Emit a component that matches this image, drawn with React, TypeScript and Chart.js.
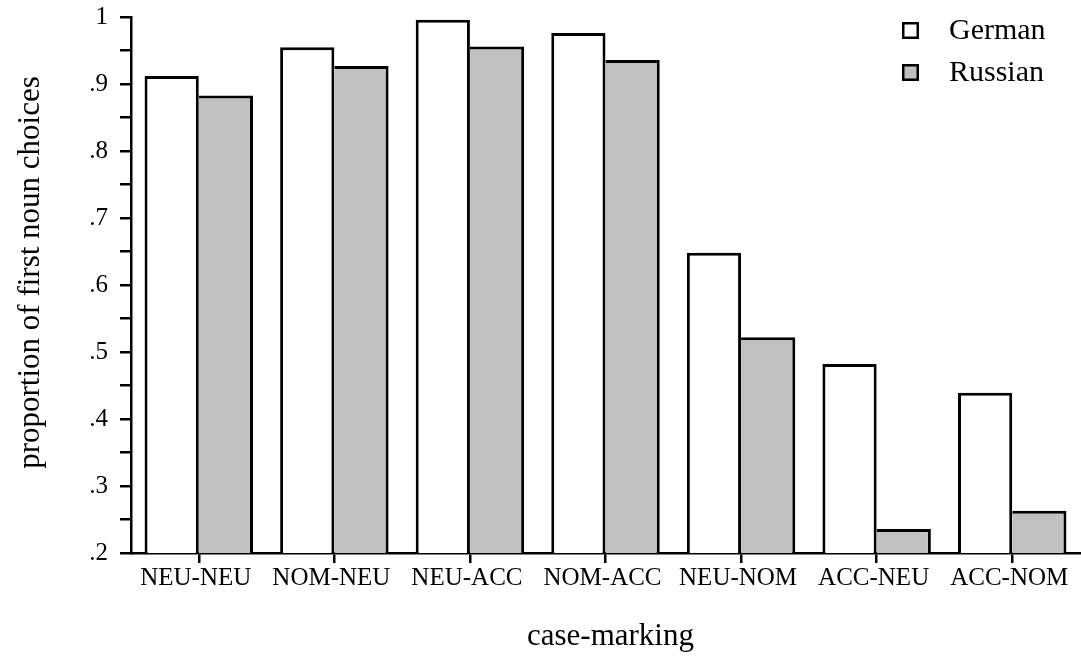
import React, { useEffect, useRef } from 'react';
import { Chart, registerables } from 'chart.js';

Chart.register(...registerables);

const categories = ['NEU-NEU', 'NOM-NEU', 'NEU-ACC', 'NOM-ACC', 'NEU-NOM', 'ACC-NEU', 'ACC-NOM'];
const germanValues = [0.912, 0.955, 0.996, 0.976, 0.648, 0.482, 0.439];
const russianValues = [0.883, 0.927, 0.956, 0.936, 0.522, 0.236, 0.263];
const seriesLabels = ['German', 'Russian'];
const yMin = 0.2;
const yMax = 1;
const yTickStep = 0.05;
const xTitle = 'case-marking';
const yTitle = 'proportion of first noun choices';

const FONT = '"Liberation Serif", "Times New Roman", serif';

const legendPlugin = {
  id: 'customLegend',
  afterDraw(chart: any) {
    const { ctx, chartArea } = chart;
    ctx.save();
    const boxX = chartArea.right - 178;
    const textX = chartArea.right - 131;
    const rows = [30, 72];
    chart.data.datasets.forEach((ds: any, i: number) => {
      const cy = rows[i];
      ctx.fillStyle = ds.backgroundColor;
      ctx.fillRect(boxX, cy - 8, 17, 17);
      ctx.lineWidth = 2.5;
      ctx.strokeStyle = '#000';
      ctx.strokeRect(boxX + 1.25, cy - 6.75, 14.5, 14.5);
      ctx.fillStyle = '#000';
      ctx.font = `30px ${FONT}`;
      ctx.textBaseline = 'middle';
      ctx.textAlign = 'left';
      ctx.fillText(ds.label, textX, cy + 1);
    });
    // y-axis title
    ctx.save();
    ctx.translate(31, 272.5);
    ctx.rotate(-Math.PI / 2);
    ctx.font = `31px ${FONT}`;
    ctx.textAlign = 'center';
    ctx.textBaseline = 'middle';
    ctx.fillStyle = '#000';
    ctx.fillText(yTitle, 0, 0);
    ctx.restore();
    // x-axis title
    ctx.font = `31px ${FONT}`;
    ctx.textAlign = 'center';
    ctx.textBaseline = 'middle';
    ctx.fillStyle = '#000';
    ctx.fillText(xTitle, (chartArea.left + chartArea.right) / 2 + 5, 637);
    ctx.restore();
  },
};

export default function App() {
  const ref = useRef<HTMLCanvasElement | null>(null);

  useEffect(() => {
    if (!ref.current) return;
    const chart = new Chart(ref.current, {
      type: 'bar',
      data: {
        labels: categories,
        datasets: [
          {
            label: seriesLabels[0],
            data: germanValues,
            backgroundColor: '#ffffff',
            borderColor: '#000000',
            borderWidth: { top: 3, left: 3, right: 3, bottom: 0 },
            borderSkipped: false,
            categoryPercentage: 0.8,
            barPercentage: 1.0,
          },
          {
            label: seriesLabels[1],
            data: russianValues,
            backgroundColor: '#c0c0c0',
            borderColor: '#000000',
            borderWidth: { top: 3, left: 0, right: 3, bottom: 0 },
            borderSkipped: false,
            categoryPercentage: 0.8,
            barPercentage: 1.0,
          },
        ],
      },
      options: {
        responsive: false,
        animation: false,
        layout: { padding: { left: 0, top: 17, right: 1, bottom: 0 } },
        plugins: {
          legend: { display: false },
          tooltip: { enabled: false },
        },
        scales: {
          x: {
            grid: {
              offset: false,
              drawOnChartArea: false,
              drawTicks: true,
              tickLength: 10,
              color: '#000',
              lineWidth: 2.5,
            },
            border: { display: true, color: '#000', width: 2.5 },
            ticks: {
              color: '#000',
              font: { family: FONT, size: 25 },
              padding: 0,
              labelOffset: -3,
              maxRotation: 0,
              autoSkip: false,
            },
            title: { display: false },
            afterFit(scale: any) {
              scale.height = 104;
              scale.paddingLeft = 0;
              scale.paddingRight = 0;
            },
          },
          y: {
            min: yMin,
            max: yMax,
            grid: {
              drawOnChartArea: false,
              drawTicks: true,
              tickLength: 11,
              color: '#000',
              lineWidth: 2.5,
            },
            border: { display: true, color: '#000', width: 2.5 },
            ticks: {
              stepSize: yTickStep,
              color: '#000',
              padding: 12,
              font: { family: FONT, size: 25 },
              callback(value: any) {
                const v = Number(value);
                const tenths = Math.round(v * 10);
                if (Math.abs(v * 10 - tenths) > 1e-6) return '';
                if (tenths === 10) return '1';
                return '.' + tenths;
              },
            },
            title: { display: false },
            afterFit(scale: any) {
              scale.width = 131;
              scale.paddingTop = 0;
              scale.paddingBottom = 0;
            },
          },
        },
      },
      plugins: [legendPlugin],
    });
    return () => chart.destroy();
  }, []);

  return (
    <div style={{ position: 'absolute', left: 0, top: 0, width: 1081, height: 657, background: '#fff' }}>
      <canvas ref={ref} width={1081} height={657} />
    </div>
  );
}
